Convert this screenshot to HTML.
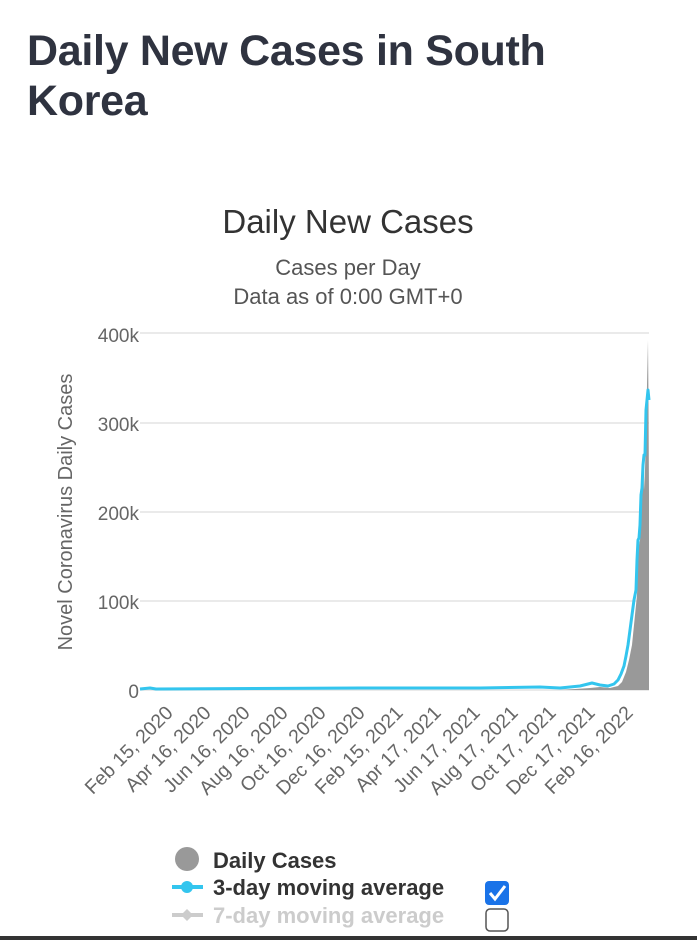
<!DOCTYPE html>
<html><head><meta charset="utf-8"><style>
body{margin:0;background:#fff;width:697px;height:940px;overflow:hidden;font-family:"Liberation Sans",sans-serif;}
h1{position:absolute;left:27px;top:26px;margin:0;font-size:43px;line-height:50px;font-weight:bold;color:#2f3340;letter-spacing:-0.3px;}
</style></head><body>
<h1>Daily New Cases in South<br>Korea</h1>
<svg width="697" height="940" style="position:absolute;left:0;top:0" xmlns="http://www.w3.org/2000/svg" font-family="Liberation Sans, sans-serif">
<text x="348" y="233" text-anchor="middle" font-size="33" fill="#333">Daily New Cases</text>
<text x="348" y="275" text-anchor="middle" font-size="22" fill="#555">Cases per Day</text>
<text x="348" y="304" text-anchor="middle" font-size="22" fill="#555">Data as of 0:00 GMT+0</text>
<g stroke="#e4e4e4" stroke-width="1.5">
<line x1="140" y1="333" x2="649" y2="333"/><line x1="140" y1="423" x2="649" y2="423"/>
<line x1="140" y1="512" x2="649" y2="512"/><line x1="140" y1="601" x2="649" y2="601"/>
<line x1="140" y1="690" x2="649" y2="690"/></g>
<g font-size="19" fill="#666" text-anchor="end">
<text x="139" y="342">400k</text><text x="139" y="431">300k</text><text x="139" y="520">200k</text><text x="139" y="609">100k</text><text x="139" y="698">0</text></g>
<text transform="translate(72,512) rotate(-90)" text-anchor="middle" font-size="20" fill="#666">Novel Coronavirus Daily Cases</text>
<path d="M560,690 L590,688 L600,687 L610,688 L618,686 L622,682 L626,672 L629,660 L632,645 L634,625 L636,605 L637,595 L638,560 L639,545 L640,540 L641,525 L642,500 L643,455 L644,490 L645,470 L646,430 L647,385 L648,340 L648.5,400 L649,495 L649,690 Z" fill="#999"/>
<path d="M140,689 L150,688 L156,689 L360,688 L480,688 L540,687 L560,688 L580,686 L592,683 L600,685 L608,686 L614,684 L618,680 L621,674 L624,666 L626,656 L628,645 L630,630 L632,615 L634,600 L636,590 L637,560 L638,540 L639,538 L640,525 L641,495 L642,488 L643,465 L644,455 L645,455 L646,410 L647,400 L648,390 L649,400" fill="none" stroke="#33c5ee" stroke-width="3" stroke-linejoin="round"/>
<g font-size="19.5" fill="#666" text-anchor="end">
<text transform="translate(174,714) rotate(-45)">Feb 15, 2020</text>
<text transform="translate(212,714) rotate(-45)">Apr 16, 2020</text>
<text transform="translate(251,714) rotate(-45)">Jun 16, 2020</text>
<text transform="translate(289,714) rotate(-45)">Aug 16, 2020</text>
<text transform="translate(327,714) rotate(-45)">Oct 16, 2020</text>
<text transform="translate(366,714) rotate(-45)">Dec 16, 2020</text>
<text transform="translate(404,714) rotate(-45)">Feb 15, 2021</text>
<text transform="translate(442,714) rotate(-45)">Apr 17, 2021</text>
<text transform="translate(481,714) rotate(-45)">Jun 17, 2021</text>
<text transform="translate(519,714) rotate(-45)">Aug 17, 2021</text>
<text transform="translate(557,714) rotate(-45)">Oct 17, 2021</text>
<text transform="translate(596,714) rotate(-45)">Dec 17, 2021</text>
<text transform="translate(634,714) rotate(-45)">Feb 16, 2022</text>
</g>
<circle cx="187" cy="859" r="12" fill="#999"/>
<text x="213" y="868" font-size="22" font-weight="bold" fill="#333">Daily Cases</text>
<line x1="172" y1="887" x2="203" y2="887" stroke="#33c5ee" stroke-width="4"/><circle cx="187" cy="887" r="6" fill="#33c5ee"/>
<text x="213" y="895" font-size="22" font-weight="bold" fill="#333">3-day moving average</text>
<line x1="172" y1="915" x2="203" y2="915" stroke="#ccc" stroke-width="4"/><path d="M187,909 L193,915 L187,921 L181,915Z" fill="#ccc"/>
<text x="213" y="923" font-size="22" font-weight="bold" fill="#ccc">7-day moving average</text>
<rect x="485" y="881" width="24" height="24" rx="4" fill="#1a73e8"/>
<path d="M490,893 L495,899 L505,886" fill="none" stroke="#fff" stroke-width="3"/>
<rect x="486" y="909" width="22" height="22" rx="4" fill="#fff" stroke="#555" stroke-width="1.5"/>
<rect x="0" y="936" width="697" height="4" fill="#333"/>
</svg>
</body></html>
